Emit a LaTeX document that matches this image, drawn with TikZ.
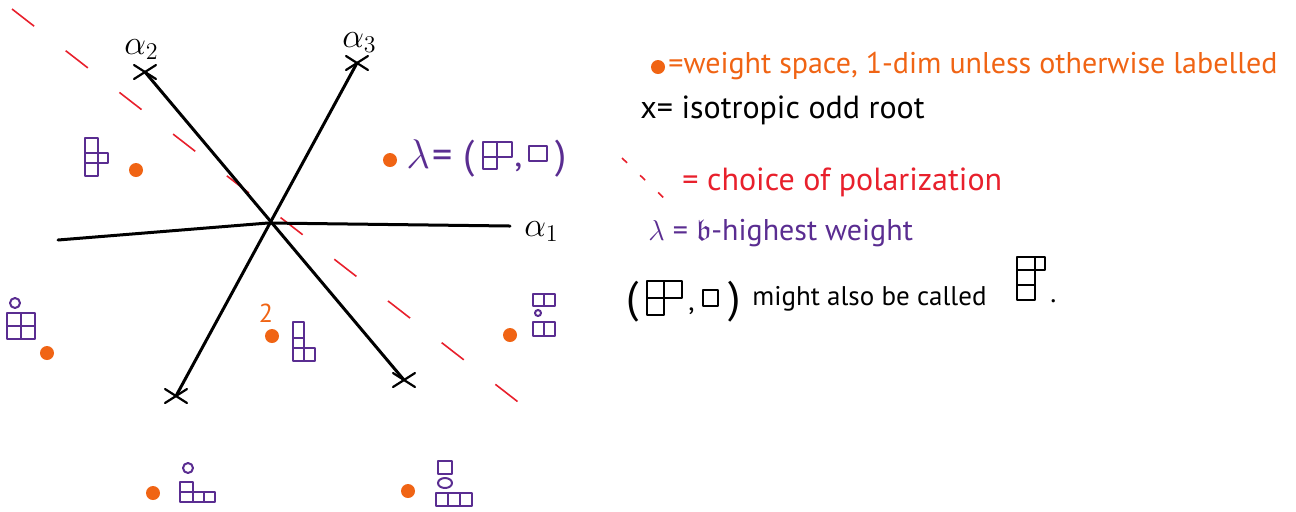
\documentclass[tikz,border=0pt]{standalone}
\usepackage{fontspec}
\setmainfont{PT Sans}
\usepackage{amssymb}
\usetikzlibrary{calc}
\definecolor{worange}{HTML}{F06414}
\definecolor{pred}{HTML}{E8202C}
\definecolor{ypurple}{HTML}{5A2D91}
\newcommand\ycell[5][yd]{\draw[#1] (#2,#3) rectangle ++(#4,#5);}
\newcommand\fs[1]{\fontsize{#1}{#1}\selectfont}
\tikzset{
  axis/.style={line width=1.5pt, line cap=round, line join=round},
  xm/.style={line width=1.1pt, line cap=round},
  pol/.style={pred, line width=0.8pt, dash pattern=on 14pt off 20pt},
  wdot/.style={circle, fill=worange, inner sep=0pt, minimum size=7pt},
  yd/.style={draw=ypurple, line width=1pt, line join=round},
  ydk/.style={draw=black, line width=1.4pt, line join=round},
  lg/.style={inner sep=0pt, anchor=base west},
  rootlbl/.style={font=\fs{17}, inner sep=0pt, anchor=base west},
}
\begin{document}
\begin{tikzpicture}[x=0.5pt,y=-0.5pt]
\useasboundingbox (0,0) rectangle (1296,511);
% polarization
\coordinate (pA) at (12,9);
\coordinate (pB) at (522,405);
\draw[pol] (pA) -- (pB);
% root hyperplanes
\coordinate (c) at (268,223);
\coordinate (a1L) at (58,240);
\coordinate (a1R) at (510,226);
\coordinate (a2T) at (145,72);
\coordinate (a2B) at (404,380);
\coordinate (a3T) at (357,63);
\coordinate (a3B) at (176,396);
\draw[axis] (a1L) -- (c) -- (a1R);
\draw[axis] (a2T) -- (a2B);
\draw[axis] (a3T) -- (a3B);
\foreach \p in {a2T,a2B,a3T,a3B}{
  \draw[xm] ($(\p)+(-11,-7)$) -- ($(\p)+(11,7)$);
  \draw[xm] ($(\p)+(-11,7)$) -- ($(\p)+(11,-7)$);
}
\node[rootlbl] (l1) at (524,236) {$\alpha_1$};
\node[rootlbl] (l2) at (124,54) {$\alpha_2$};
\node[rootlbl] (l3) at (342,47) {$\alpha_3$};
% weight dots
\node[wdot] (w1) at (136,170) {};
\node[wdot] (w2) at (390,160) {};
\node[wdot] (w3) at (47,353) {};
\node[wdot] (w4) at (272,336) {};
\node[wdot] (w5) at (510,335) {};
\node[wdot] (w6) at (153,493) {};
\node[wdot] (w7) at (408,491) {};
\node[lg, text=worange, font=\fs{13}, anchor=base] (two) at (266,322) {2};
% D1
\ycell{85}{138}{13}{15}\ycell{85}{153}{13}{10}\ycell{85}{163}{13}{13}\ycell{98}{153}{10}{10}
% lambda label
\node[lg, text=ypurple, font=\fs{20}] (lam) at (406,168) {$\lambda$};
\node[lg, text=ypurple, font=\fs{20}] (lame) at (432,168) {=};
\node[lg, text=ypurple, font=\fs{20}] (lamo) at (463,168) {(};
\ycell{483}{142}{14}{15}\ycell{497}{142}{15}{15}\ycell{483}{157}{14}{12}
\node[lg, text=ypurple, font=\fs{18}] (lamc) at (514,166) {,};
\ycell{529}{146}{18}{15}
\node[lg, text=ypurple, font=\fs{20}] (lamr) at (555,168) {)};
% D3
\draw[yd] (15,303) circle (5);
\ycell{7}{313}{14}{13}\ycell{21}{313}{14}{13}\ycell{7}{326}{14}{13}\ycell{21}{326}{14}{13}
% D4
\ycell{293}{322}{11}{16}\ycell{293}{338}{11}{10}\ycell{293}{348}{11}{13}\ycell{304}{348}{11}{13}
% D5
\ycell{533}{294}{11}{12}\ycell{544}{294}{11}{12}
\draw[yd] (538,313) circle (3);
\ycell{533}{322}{11}{14}\ycell{544}{322}{11}{14}
% D6
\draw[yd] (188,468) circle (5);
\ycell{180}{482}{13}{10}\ycell{180}{492}{13}{10}\ycell{193}{492}{11}{10}\ycell{204}{492}{11}{10}
% D7
\ycell{438}{461}{14}{13}
\draw[yd] (445,483) ellipse (7 and 5);
\ycell{436}{493}{12}{13}\ycell{448}{493}{12}{13}\ycell{460}{493}{12}{13}
% legend
\node[wdot] (ld) at (658,67) {};
\node[lg, text=worange, font=\fs{15}] (t1) at (668,73) {=weight space, 1-dim unless otherwise labelled};
\node[lg, font=\fs{16}] (t2) at (640,118) {x= isotropic odd root};
\coordinate (mA) at (622,158);
\coordinate (mB) at (666,200);
\draw[pred, line width=0.8pt, dash pattern=on 3.5pt off 9pt] (mA) -- (mB);
\node[lg, text=pred, font=\fs{16}] (t3) at (682,190) {= choice of polarization};
\node[lg, text=ypurple, font=\fs{15}] (t4) at (648,240) {$\lambda$ = $\mathfrak{b}$-highest weight};
\node[lg, font=\fs{22}] (t5a) at (626,312) {(};
\ycell[ydk]{647}{281}{17}{17}\ycell[ydk]{664}{281}{18}{17}\ycell[ydk]{647}{298}{17}{17}
\node[lg, font=\fs{14}] (t5b) at (688,310) {,};
\ycell[ydk]{703}{290}{15}{16}
\node[lg, font=\fs{22}] (t5c) at (728,312) {)};
\node[lg, font=\fs{13.5}] (t5d) at (752,305) {might also be called};
\ycell[ydk]{1017}{257}{18}{13}\ycell[ydk]{1017}{270}{18}{15}\ycell[ydk]{1017}{285}{18}{15}\ycell[ydk]{1035}{257}{10}{13}
\node[lg, font=\fs{14}] (t5e) at (1050,302) {.};
\end{tikzpicture}
\end{document}
